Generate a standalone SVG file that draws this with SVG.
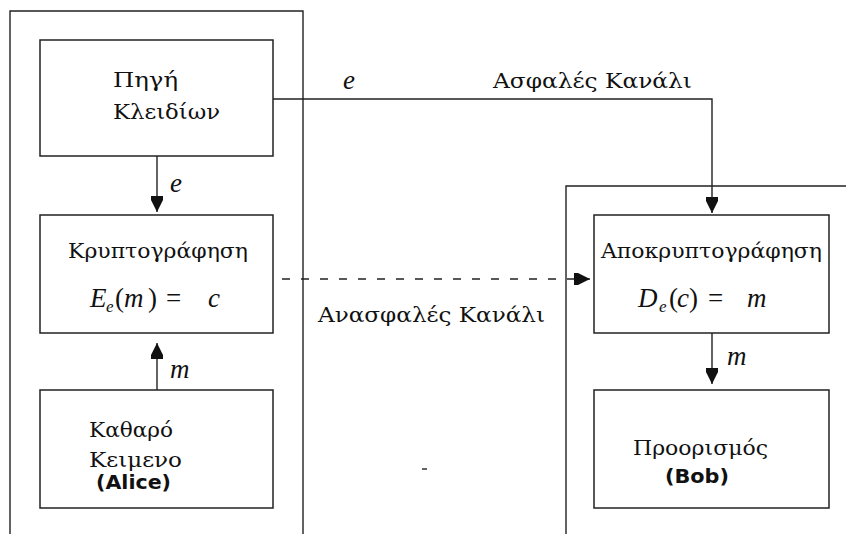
<svg xmlns="http://www.w3.org/2000/svg" width="846" height="534" viewBox="0 0 846 534">
<defs>
<style>
.frame{fill:none;stroke:#222;stroke-width:1.4}
.box{fill:#fff;stroke:#222;stroke-width:1.5}
.line{fill:none;stroke:#222;stroke-width:1.4}
.dash{fill:none;stroke:#222;stroke-width:1.4;stroke-dasharray:8 11}
.gr{font-family:"DejaVu Serif","Liberation Serif",serif;font-size:20px;fill:#111}
.it{font-family:"Liberation Serif","DejaVu Serif",serif;font-style:italic;font-size:27px;fill:#111}
.up{font-family:"Liberation Serif","DejaVu Serif",serif;font-size:27px;fill:#111}
.sub{font-family:"Liberation Serif","DejaVu Serif",serif;font-style:italic;font-size:17px;fill:#111}
.bold{font-family:"DejaVu Sans","Liberation Sans",sans-serif;font-weight:bold;font-size:20px;fill:#111}
</style>
<marker id="ah" viewBox="-17 -7 18 14" refX="0" refY="0" markerWidth="18" markerHeight="14" markerUnits="userSpaceOnUse" orient="auto">
<path d="M0,0 L-12,-6 L-16,-6 L-16,6 L-12,6 Z" fill="#111"/>
</marker>
</defs>
<rect width="846" height="534" fill="#fff"/>
<g id="frames">
<path class="frame" d="M10,540 V11 H303 V540"/>
<path class="frame" d="M850,186 H566 V540"/>
</g>
<g id="connectors">
<path class="line" d="M273,99 H712 V213" marker-end="url(#ah)"/>
<path class="line" d="M157,156 V212" marker-end="url(#ah)"/>
<path class="line" d="M157,390 V343" marker-end="url(#ah)"/>
<path class="line" d="M712,333 V384" marker-end="url(#ah)"/>
<path class="dash" d="M282,279 H575"/>
<path class="line" d="M575,279 H590" marker-end="url(#ah)"/>
<path class="line" d="M422,469 H427" stroke-width="2"/>
</g>
<g id="labels">
<text class="it" x="343" y="89" font-size="23">e</text>
<text class="gr" x="493" y="88" textLength="199" lengthAdjust="spacingAndGlyphs">Ασφαλές Κανάλι</text>
<text class="it" x="170" y="192" font-size="23">e</text>
<text class="it" x="170" y="378" font-size="25">m</text>
<text class="gr" x="318" y="322" textLength="227" lengthAdjust="spacingAndGlyphs">Ανασφαλές Κανάλι</text>
<text class="it" x="727" y="365" font-size="25">m</text>
</g>
<g id="key-source">
<rect class="box" x="40" y="40" width="233" height="116"/>
<text class="gr" x="113" y="87" textLength="65" lengthAdjust="spacingAndGlyphs">Πηγή</text>
<text class="gr" x="113" y="119" textLength="107" lengthAdjust="spacingAndGlyphs">Κλειδίων</text>
</g>
<g id="encryption">
<rect class="box" x="40" y="215" width="233" height="118"/>
<text class="gr" x="68" y="258" textLength="180" lengthAdjust="spacingAndGlyphs">Κρυπτογράφηση</text>
<text class="it" x="90" y="307">E</text>
<text class="sub" x="106" y="312">e</text>
<text class="up" x="115" y="307">(</text>
<text class="it" x="124" y="307">m</text>
<text class="up" x="148" y="307">)</text>
<text class="up" x="166" y="307">=</text>
<text class="it" x="208" y="307">c</text>
</g>
<g id="plaintext">
<rect class="box" x="40" y="390" width="233" height="118"/>
<text class="gr" x="89" y="437" textLength="84" lengthAdjust="spacingAndGlyphs">Καθαρό</text>
<text class="gr" x="89" y="467" textLength="93" lengthAdjust="spacingAndGlyphs">Κειμενο</text>
<text class="bold" x="96" y="489" textLength="75" lengthAdjust="spacingAndGlyphs">(Alice)</text>
</g>
<g id="decryption">
<rect class="box" x="594" y="215" width="235" height="118"/>
<text class="gr" x="601" y="258" textLength="221" lengthAdjust="spacingAndGlyphs">Αποκρυπτογράφηση</text>
<text class="it" x="638" y="307">D</text>
<text class="sub" x="659" y="312">e</text>
<text class="up" x="669" y="307">(</text>
<text class="it" x="677" y="307">c</text>
<text class="up" x="689" y="307">)</text>
<text class="up" x="708" y="307">=</text>
<text class="it" x="747" y="307">m</text>
</g>
<g id="destination">
<rect class="box" x="594" y="390" width="235" height="118"/>
<text class="gr" x="633" y="455" textLength="135" lengthAdjust="spacingAndGlyphs">Προορισμός</text>
<text class="bold" x="665" y="483" textLength="64" lengthAdjust="spacingAndGlyphs">(Bob)</text>
</g>
</svg>
